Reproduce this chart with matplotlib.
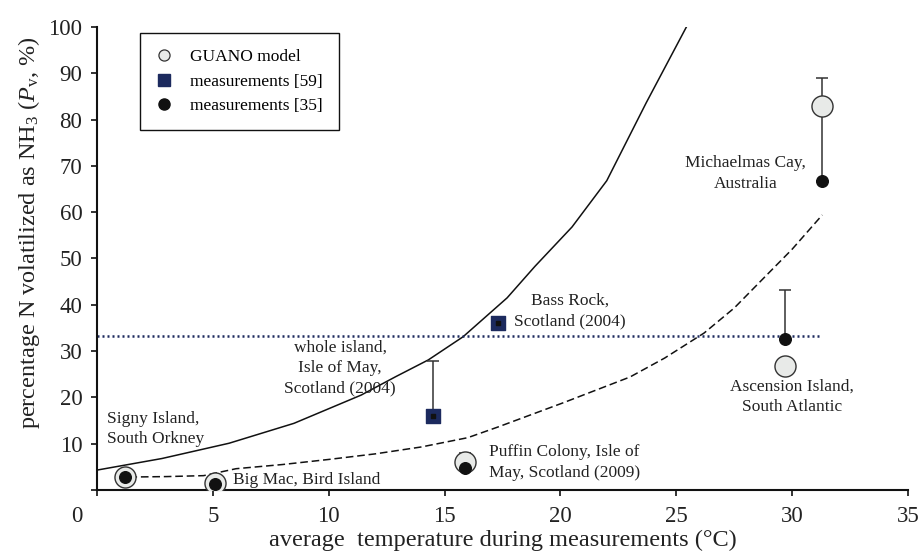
import matplotlib.pyplot as plt
from matplotlib.lines import Line2D

plt.rcParams['font.family'] = ['Liberation Serif', 'DejaVu Serif']
plt.rcParams['mathtext.fontset'] = 'custom'
plt.rcParams['mathtext.rm'] = 'Liberation Serif'
plt.rcParams['mathtext.it'] = 'Liberation Serif:italic'

# model curves
solid_x = [0, 2.8, 5.7, 8.5, 11.4, 12.9, 14.3, 15.8, 17.7, 18.9, 20.5, 22.0, 23.7, 25.5]
solid_y = [4.3, 6.8, 10.1, 14.4, 20.5, 24.5, 28.1, 33.1, 41.5, 48.3, 56.8, 66.8, 83.6, 100.6]
dashed_x = [1.4, 3, 4.6, 6, 8, 10, 12, 14, 16, 17.3, 20.1, 23, 24.5, 26.2, 27.5, 28.7, 30, 31.3]
dashed_y = [2.8, 2.9, 3.1, 4.6, 5.5, 6.6, 7.8, 9.3, 11.3, 13.6, 18.8, 24.4, 28.5, 33.9, 39.3, 45.4, 52.0, 59.4]
dotted_x = [0, 31.3]
dotted_y = [33.2, 33.2]

# GUANO model
model_t = [1.2, 5.1, 15.9, 29.7, 31.3]
model_p = [2.8, 1.5, 6.0, 26.8, 82.9]

# measurements [35]
m35_t = [1.2, 5.1, 15.9, 29.7, 31.3]
m35_p = [2.8, 1.4, 4.7, 32.6, 66.7]
m35_err = [0, 0, 3.3, 10.6, 22.3]

# measurements [59]
m59_t = [14.5, 17.3]
m59_p = [16.0, 36.0]
m59_err = [11.8, 0]

navy = '#1c2a5e'
txt = '#222222'

fig = plt.figure(figsize=(9.22, 5.55), dpi=100)
ax = fig.add_axes([0.1052, 0.1171, 0.8796, 0.8343])

ax.plot(solid_x, solid_y, color='#111111', lw=1.1)
ax.plot(dashed_x, dashed_y, color='#111111', lw=1.1, linestyle=(0, (5, 2.5)))
ax.plot(dotted_x, dotted_y, color=navy, lw=1.8, linestyle=(0, (0.8, 1.2)))

ax.errorbar(m35_t, m35_p, yerr=[[0] * len(m35_err), m35_err], fmt='none',
            ecolor='#333333', elinewidth=1.1, capsize=4, capthick=1.1, zorder=3)
ax.errorbar(m59_t, m59_p, yerr=[[0] * len(m59_err), m59_err], fmt='none',
            ecolor='#333333', elinewidth=1.1, capsize=4, capthick=1.1, zorder=3)

ax.scatter(model_t, model_p, s=230, facecolor='#e8eae8', edgecolor='#333333',
           linewidth=1.0, zorder=4)
ax.scatter(m35_t, m35_p, s=70, color='#111111', zorder=5)
ax.scatter(m59_t, m59_p, s=110, marker='s', color=navy, zorder=5)
ax.scatter(m59_t, m59_p, s=12, marker='s', color='#111111', zorder=6)

labels = [
    (0.43, 13.2, 'Signy Island,\nSouth Orkney', 'left'),
    (5.87, 2.2, 'Big Mac, Bird Island', 'left'),
    (10.5, 26.4, 'whole island,\nIsle of May,\nScotland (2004)', 'center'),
    (20.4, 38.7, 'Bass Rock,\nScotland (2004)', 'center'),
    (16.9, 6.0, 'Puffin Colony, Isle of\nMay, Scotland (2009)', 'left'),
    (30.0, 20.2, 'Ascension Island,\nSouth Atlantic', 'center'),
    (28.0, 68.3, 'Michaelmas Cay,\nAustralia', 'center'),
]
for x, y, s, ha in labels:
    ax.text(x, y, s, ha=ha, va='center', fontsize=12.5, color=txt,
            linespacing=1.38, multialignment=ha)

ax.set_xlim(0, 35)
ax.set_ylim(0, 100)
ax.set_xticks(range(0, 36, 5))
ax.set_xticklabels([''] + [str(v) for v in range(5, 36, 5)])
ax.set_yticks(range(0, 101, 10))
ax.set_yticklabels([''] + [str(v) for v in range(10, 101, 10)])
ax.tick_params(labelsize=16.5, colors='#111111', length=4.5, width=1.2, labelcolor=txt)
ax.tick_params(axis='x', pad=7)
ax.tick_params(axis='y', pad=6)
ax.annotate('0', xy=(0, 0), xycoords=('data', 'axes fraction'),
            xytext=(-14.5, -11.5), textcoords='offset points',
            ha='center', va='top', fontsize=16.5, color=txt)

for side in ['top', 'right']:
    ax.spines[side].set_visible(False)
for side in ['left', 'bottom']:
    ax.spines[side].set_linewidth(1.5)
    ax.spines[side].set_color('#111111')

ax.set_xlabel('average  temperature during measurements (°C)', fontsize=17.5,
              color=txt, labelpad=2)
ax.set_ylabel(r'percentage N volatilized as NH$_3$ ($P_{\mathrm{v}}$, $\%$)',
              fontsize=17.5, color=txt)
ax.yaxis.set_label_coords(-0.068, 0.555)

handles = [
    Line2D([], [], marker='o', ls='none', markersize=8, markerfacecolor='#e8eae8',
           markeredgecolor='#333333', markeredgewidth=0.9),
    Line2D([], [], marker='s', ls='none', markersize=8, color=navy),
    Line2D([], [], marker='o', ls='none', markersize=8, color='#111111'),
]
leg = ax.legend(handles, ['GUANO model', 'measurements [59]', 'measurements [35]'],
                loc='upper left', bbox_to_anchor=(0.053, 0.987), borderaxespad=0,
                fontsize=12.5, frameon=True, fancybox=False, framealpha=1,
                edgecolor='#111111', borderpad=0.9, handlelength=1.0,
                handletextpad=1.0, labelspacing=0.5)
leg.get_frame().set_linewidth(1.0)

fig.savefig('out.png', dpi=100)
